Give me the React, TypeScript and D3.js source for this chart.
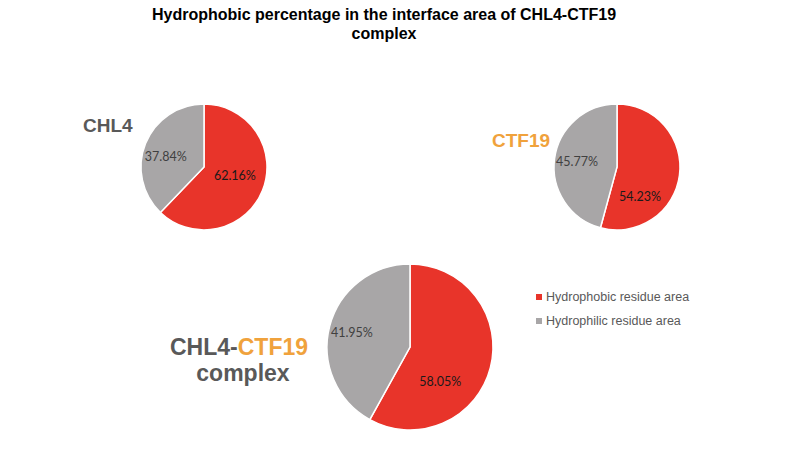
import { useEffect, useRef } from "react"
import * as d3 from "d3"

type Slice = { name: string, value: number }
type LabelPlace = { turn: number, frac: number }

const seriesNames = ["Hydrophobic residue area", "Hydrophilic residue area"]
const chl4Values = [62.16, 37.84]
const ctf19Values = [54.23, 45.77]
const complexValues = [58.05, 41.95]

const colors = ["#E8342A", "#A8A6A7"]

const App = () => {
  const svgRef = useRef<SVGSVGElement | null>(null)

  useEffect(() => {
    const width = 800
    const height = 450

    const svg = d3.select(svgRef.current)
      .attr("width", width)
      .attr("height", height)

    svg.selectAll("*").remove()

    const color = d3.scaleOrdinal<string>()
      .domain(seriesNames)
      .range(colors)

    const pie = d3.pie<Slice>()
      .sort(null)
      .value(d => d.value)

    const sans = "'Liberation Sans', Arial, sans-serif"

    // title
    const title = svg.append("text")
      .attr("text-anchor", "middle")
      .attr("font-family", sans)
      .attr("font-weight", "bold")
      .attr("font-size", 16)
      .attr("fill", "#000")
    title.append("tspan").attr("x", 384).attr("y", 20)
      .text("Hydrophobic percentage in the interface area of CHL4-CTF19")
    title.append("tspan").attr("x", 384).attr("y", 39).text("complex")

    // labels sit at the slice mid angle, nudged (degrees) like the hand-placed originals
    const drawPie = (values: number[], cx: number, cy: number, r: number, places: LabelPlace[]) => {
      const data = values.map((v, i) => ({ name: seriesNames[i], value: v }))
      const arc = d3.arc<d3.PieArcDatum<Slice>>().innerRadius(0).outerRadius(r)

      const g = svg.append("g").attr("transform", `translate(${cx},${cy})`)
      const arcs = pie(data)

      g.selectAll("path")
        .data(arcs)
        .enter()
        .append("path")
        .attr("d", arc)
        .attr("fill", d => color(d.data.name) as string)
        .attr("stroke", "#fff")
        .style("stroke-width", "1.5px")

      g.selectAll("text")
        .data(arcs)
        .enter()
        .append("text")
        .attr("transform", (d, i) => {
          const a = (d.startAngle + d.endAngle) / 2 + places[i].turn * Math.PI / 180
          const rr = r * places[i].frac
          return `translate(${Math.sin(a) * rr},${-Math.cos(a) * rr})`
        })
        .attr("text-anchor", "middle")
        .attr("dy", "0.35em")
        .attr("font-family", "Lato, 'Open Sans', sans-serif")
        .attr("font-size", 12.5)
        .attr("fill", (d, i) => i === 0 ? "#1a1a1a" : "#404040")
        .text(d => `${d.data.value.toFixed(2)}%`)
    }

    drawPie(chl4Values, 204, 167, 63, [{ turn: -6, frac: 0.51 }, { turn: -6, frac: 0.63 }])
    drawPie(ctf19Values, 617, 167, 63, [{ turn: 45, frac: 0.6 }, { turn: 0, frac: 0.64 }])
    drawPie(complexValues, 410, 347, 83, [{ turn: 34, frac: 0.55 }, { turn: -1, frac: 0.72 }])

    svg.append("text")
      .attr("x", 83).attr("y", 132)
      .attr("font-family", sans)
      .attr("font-weight", "bold")
      .attr("font-size", 19)
      .attr("fill", "#595959")
      .text("CHL4")

    svg.append("text")
      .attr("x", 492).attr("y", 147)
      .attr("font-family", sans)
      .attr("font-weight", "bold")
      .attr("font-size", 19)
      .attr("fill", "#F0A23C")
      .text("CTF19")

    const complexLabel = svg.append("text")
      .attr("text-anchor", "middle")
      .attr("font-family", sans)
      .attr("font-weight", "bold")
      .attr("font-size", 23)
      .attr("fill", "#595959")
    const line1 = complexLabel.append("tspan").attr("x", 239).attr("y", 355)
    line1.append("tspan").text("CHL4-")
    line1.append("tspan").attr("fill", "#F0A23C").text("CTF19")
    complexLabel.append("tspan").attr("x", 243).attr("y", 381).text("complex")

    // legend
    const legend = svg.append("g").attr("transform", "translate(536,297)")
    const items = legend.selectAll("g")
      .data(seriesNames)
      .enter()
      .append("g")
      .attr("transform", (d, i) => `translate(0,${i * 24})`)
    items.append("rect")
      .attr("x", 0).attr("y", -3)
      .attr("width", 6).attr("height", 6)
      .attr("fill", d => color(d) as string)
    items.append("text")
      .attr("x", 10)
      .attr("dy", "0.35em")
      .attr("font-family", sans)
      .attr("font-size", 12.5)
      .attr("fill", "#595959")
      .text(d => d)
  }, [])

  return <svg ref={svgRef} style={{ display: "block", margin: -8 }}></svg>
}

export default App
